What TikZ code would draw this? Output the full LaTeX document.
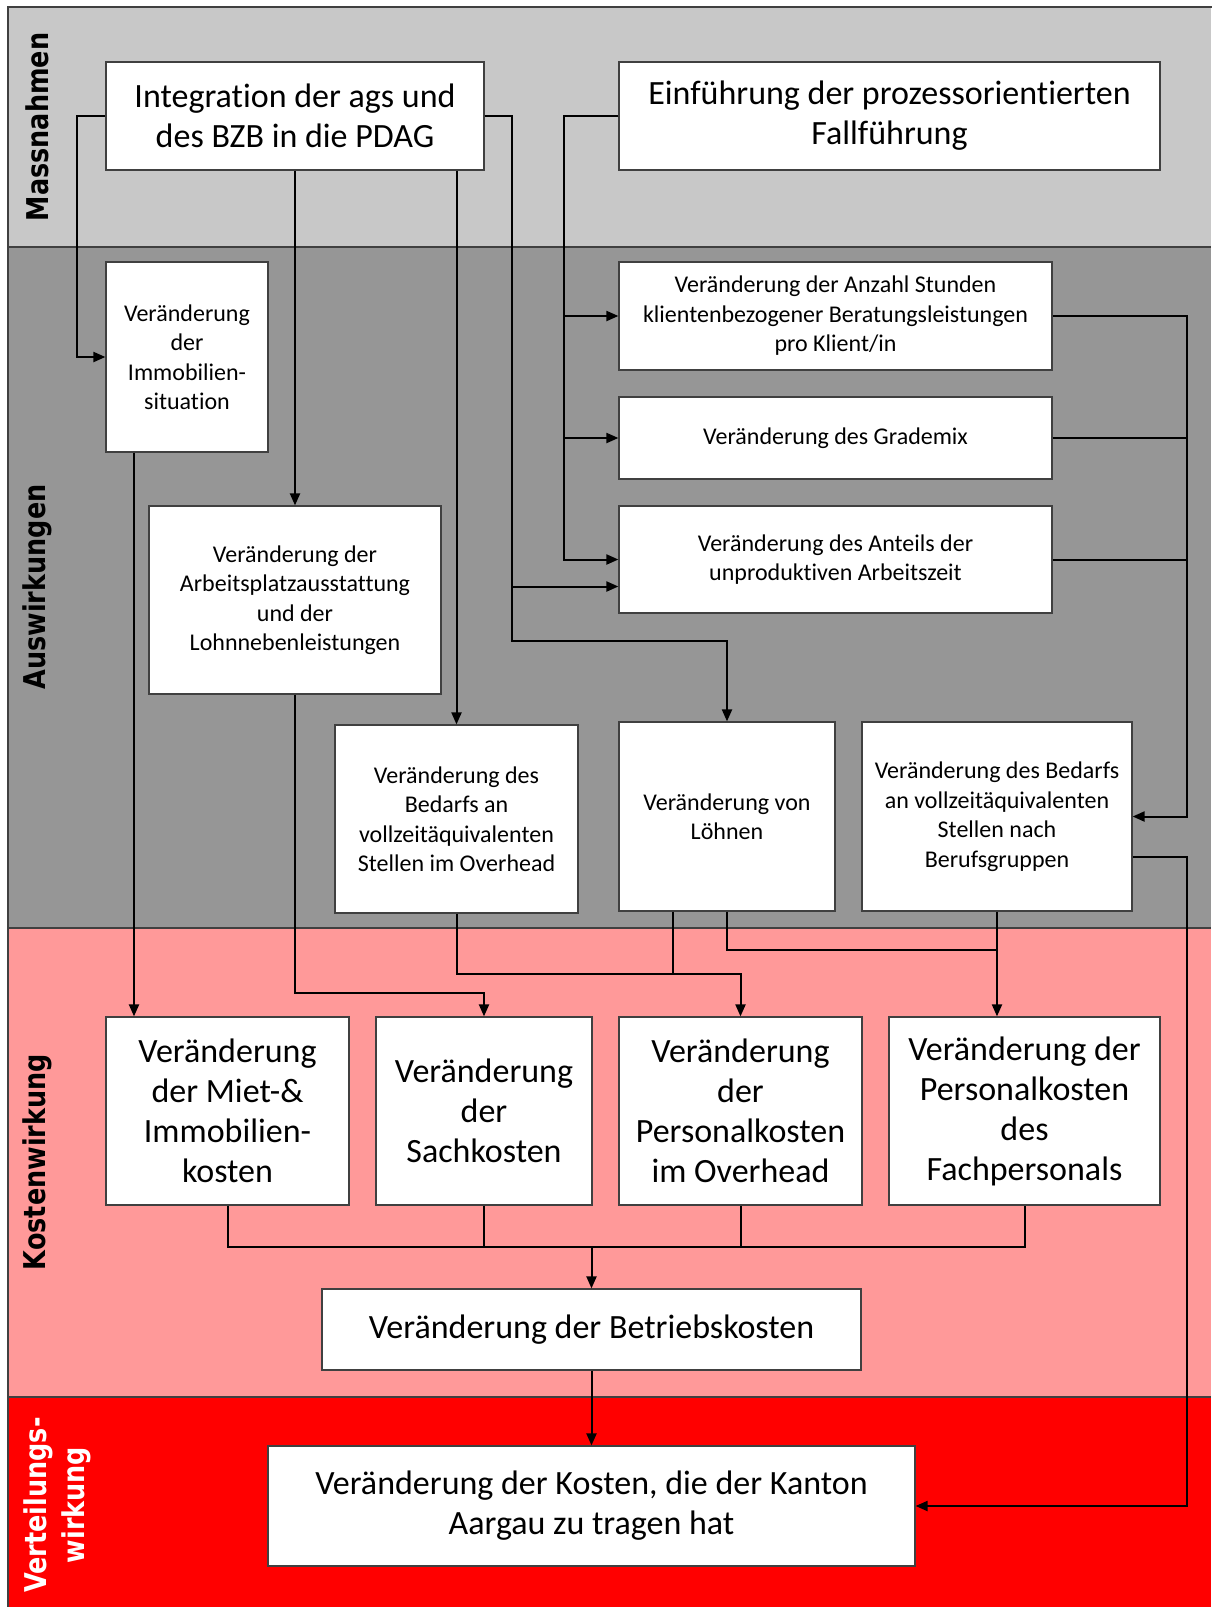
\documentclass[tikz,border=0pt]{standalone}
\usepackage{fontspec}
\setmainfont{Carlito}[Ligatures=NoCommon]
\newfontfamily\bandfont{DejaVu Sans}[FakeStretch=0.85]
\usetikzlibrary{arrows.meta,positioning}

\definecolor{massgrey}{RGB}{200,200,200}
\definecolor{auswgrey}{RGB}{150,150,150}
\definecolor{kostrose}{RGB}{255,153,153}
\definecolor{verteilrot}{RGB}{255,0,0}
\definecolor{rahmen}{RGB}{64,64,64}

\tikzset{
  bigbox/.style={draw=rahmen, line width=1.2pt, fill=white, align=center, inner sep=2pt, font=\fontsize{34}{40}\selectfont},
  smallbox/.style={bigbox, font=\fontsize{24}{29.5}\selectfont},
  band/.style={rotate=90, align=center, font=\bandfont\bfseries\fontsize{30}{38}\selectfont},
  conn/.style={line width=2pt},
  arr/.style={conn, -{Triangle[length=12pt,width=10pt]}},
}

\begin{document}
\begin{tikzpicture}[x=1pt,y=-1pt]
    \useasboundingbox (0,0) rectangle (1211,1607);
    % bands
    \fill[massgrey] (8,7) rectangle (1211,247);
    \fill[auswgrey] (8,247) rectangle (1211,928);
    \fill[kostrose] (8,928) rectangle (1211,1397);
    \fill[verteilrot] (8,1397) rectangle (1211,1607);
    \draw[rahmen, line width=1.5pt] (1212,7) -- (8,7) -- (8,1608);
    \foreach \yy in {247,928,1397}
        \draw[rahmen, line width=1.5pt] (8,\yy) -- (1211,\yy);
    \node[band] (massnahmen) at (37,127) {Massnahmen};
    \node[band] (auswirkungen) at (37,587) {Auswirkungen};
    \node[band] (kostenwirkung) at (37,1162) {Kostenwirkung};
    \node[band, text=white] (verteilung) at (57,1505) {Verteilungs-\\wirkung};

    % Massnahmen
    \node[bigbox, minimum width=378pt, minimum height=108pt] (ags) at (295,116) {Integration der ags und\\des BZB in die PDAG};
    \node[bigbox, minimum width=541pt, minimum height=108pt] (fall) at (889.5,116) {Einführung der prozessorientierten\\Fallführung};

    % Auswirkungen
    \node[smallbox, minimum width=162pt, minimum height=190pt] (immo) at (187,357) {Veränderung\\der\\Immobilien-\\situation};
    \node[smallbox, minimum width=433pt, minimum height=108pt] (stunden) at (835.5,316) {Veränderung der Anzahl Stunden\\klientenbezogener Beratungsleistungen\\pro Klient/in};
    \node[smallbox, minimum width=433pt, minimum height=82pt] (grademix) at (835.5,438) {Veränderung des Grademix};
    \node[smallbox, minimum width=433pt, minimum height=107pt] (anteil) at (835.5,559.5) {Veränderung des Anteils der\\unproduktiven Arbeitszeit};
    \node[smallbox, minimum width=292pt, minimum height=188pt] (arbeitsplatz) at (295,600) {Veränderung der\\Arbeitsplatzausstattung\\und der\\Lohnnebenleistungen};
    \node[smallbox, minimum width=243pt, minimum height=188pt] (ohstellen) at (456.5,819) {Veränderung des\\Bedarfs an\\vollzeitäquivalenten\\Stellen im Overhead};
    \node[smallbox, minimum width=216pt, minimum height=189pt] (loehne) at (727,816.5) {Veränderung von\\Löhnen};
    \node[smallbox, minimum width=270pt, minimum height=189pt] (fachstellen) at (997,816.5) {Veränderung des Bedarfs\\an vollzeitäquivalenten\\Stellen nach\\Berufsgruppen};

    % Kostenwirkung
    \node[bigbox, minimum width=243pt, minimum height=188pt] (miet) at (227.5,1111) {Veränderung\\der Miet-\&\\Immobilien-\\kosten};
    \node[bigbox, minimum width=216pt, minimum height=188pt] (sach) at (484,1111) {Veränderung\\der\\Sachkosten};
    \node[bigbox, minimum width=243pt, minimum height=188pt] (pkoh) at (740.5,1111) {Veränderung\\der\\Personalkosten\\im Overhead};
    \node[bigbox, minimum width=271pt, minimum height=188pt] (pkfach) at (1024.5,1111) {Veränderung der\\Personalkosten\\des\\Fachpersonals};
    \node[bigbox, minimum width=539pt, minimum height=81pt] (betrieb) at (591.5,1329.5) {Veränderung der Betriebskosten};

    % Verteilungswirkung
    \node[bigbox, minimum width=647pt, minimum height=120pt] (kanton) at (591.5,1506) {Veränderung der Kosten, die der Kanton\\Aargau zu tragen hat};

    % connectors from the measures
    \draw[arr] (ags.west) -- ++(-28,0) |- (immo.west);
    \draw[arr] (ags.south) -- (arbeitsplatz.north);
    \draw[arr] (ags.south -| ohstellen.north) -- (ohstellen.north);
    \draw[arr] (ags.east) -- ++(27,0) |- ([yshift=-27pt]anteil.west);
    \draw[arr] (ags.east) -- ++(27,0) -- ++(0,525) -| (loehne.north);
    \draw[arr] (fall.west) -- ++(-54,0) |- (stunden.west);
    \draw[arr] (fall.west) -- ++(-54,0) |- (grademix.west);
    \draw[arr] (fall.west) -- ++(-54,0) |- (anteil.west);

    % right collector
    \draw[arr] (stunden.east) -- ++(134,0) |- (fachstellen.east);
    \draw[conn] (grademix.east) -- ++(134,0);
    \draw[conn] (anteil.east) -- ++(134,0);
    \draw[arr] ([yshift=-40pt]fachstellen.east) -- ++(54,0) |- (kanton.east);

    % into the cost boxes
    \draw[arr] ([xshift=-53pt]immo.south) -- ([xshift=-53pt]immo.south |- miet.north);
    \draw[arr] (arbeitsplatz.south) -- ++(0,298) -| (sach.north);
    \draw[arr] (ohstellen.south) -- ++(0,60) -| (pkoh.north);
    \draw[conn] ([xshift=-54pt]loehne.south) -- ++(0,62);
    \draw[conn] (loehne.south) -- ++(0,38) -| (fachstellen.south);
    \draw[arr] (fachstellen.south) -- (fachstellen.south |- pkfach.north);

    % cost bus
    \coordinate (kostbus) at (591.5,1246);
    \draw[conn] (miet.south) -- ++(0,41) -| (pkfach.south);
    \draw[conn] (sach.south) -- ++(0,41);
    \draw[conn] (pkoh.south) -- ++(0,41);
    \draw[arr] (kostbus) -- (betrieb.north);
    \draw[arr] (betrieb) -- (kanton);
\end{tikzpicture}
\end{document}
